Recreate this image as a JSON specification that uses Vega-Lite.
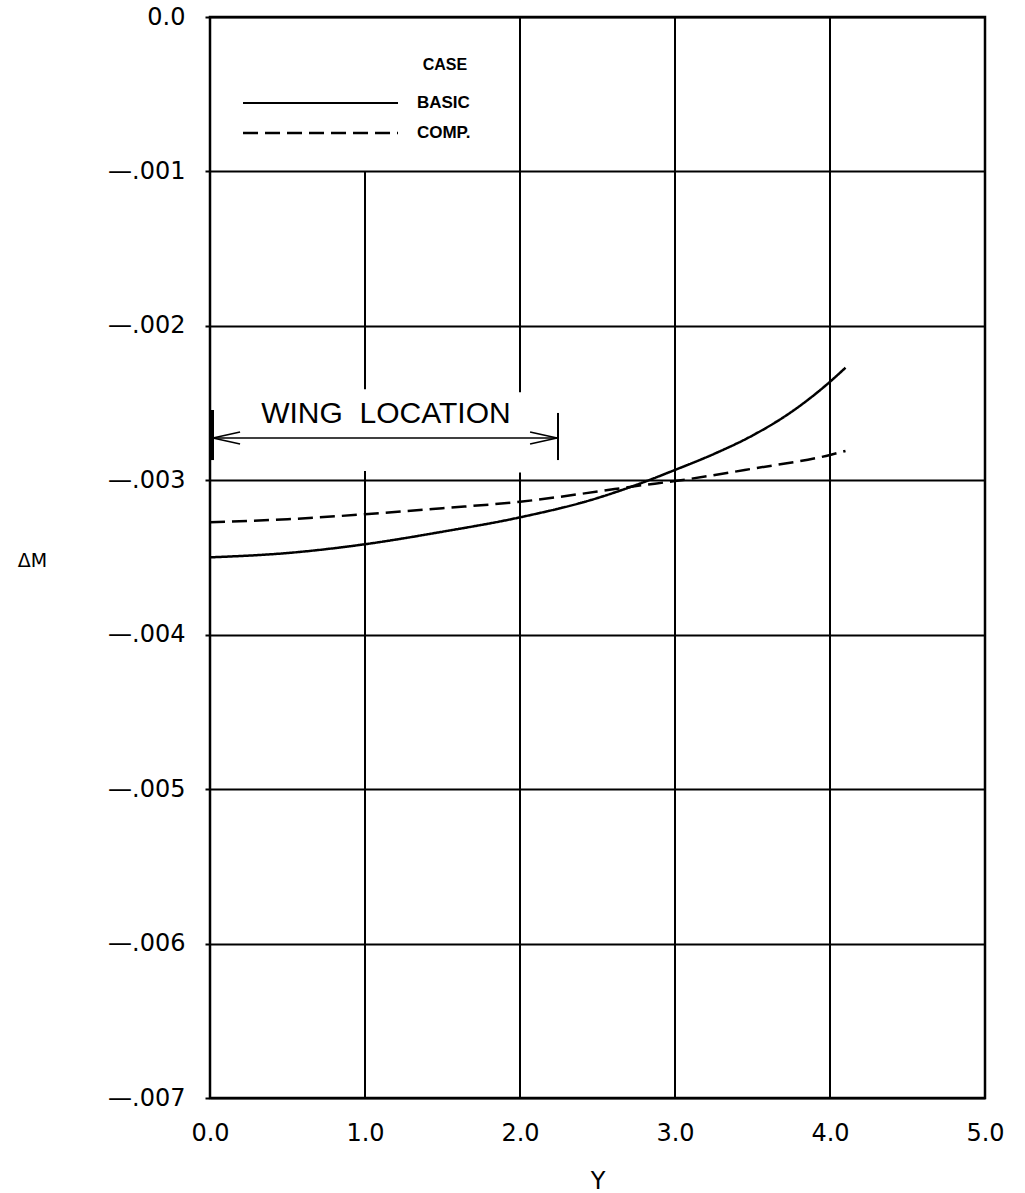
{
  "$schema": "https://vega.github.io/schema/vega-lite/v6.json",
  "width": 775,
  "height": 1081,
  "autosize": {"type": "none"},
  "padding": {"left": 210, "top": 17, "right": 40, "bottom": 95},
  "background": "white",
  "config": {"view": {"stroke": "black", "strokeWidth": 2.5}, "font": "DejaVu Sans"},
  "datasets": {
    "curves": [
      {"Y": 0.0, "dM": -0.003499, "case": "BASIC"},
      {"Y": 0.5, "dM": -0.003471, "case": "BASIC"},
      {"Y": 1.0, "dM": -0.003414, "case": "BASIC"},
      {"Y": 1.5, "dM": -0.003333, "case": "BASIC"},
      {"Y": 2.0, "dM": -0.003240, "case": "BASIC"},
      {"Y": 2.5, "dM": -0.003115, "case": "BASIC"},
      {"Y": 2.75, "dM": -0.003030, "case": "BASIC"},
      {"Y": 3.0, "dM": -0.002933, "case": "BASIC"},
      {"Y": 3.25, "dM": -0.002830, "case": "BASIC"},
      {"Y": 3.5, "dM": -0.002710, "case": "BASIC"},
      {"Y": 3.75, "dM": -0.002558, "case": "BASIC"},
      {"Y": 4.0, "dM": -0.002362, "case": "BASIC"},
      {"Y": 4.1, "dM": -0.002271, "case": "BASIC"},
      {"Y": 0.0, "dM": -0.003272, "case": "COMP."},
      {"Y": 0.5, "dM": -0.003252, "case": "COMP."},
      {"Y": 1.0, "dM": -0.003220, "case": "COMP."},
      {"Y": 1.5, "dM": -0.003181, "case": "COMP."},
      {"Y": 2.0, "dM": -0.003139, "case": "COMP."},
      {"Y": 2.5, "dM": -0.003073, "case": "COMP."},
      {"Y": 2.75, "dM": -0.003037, "case": "COMP."},
      {"Y": 3.0, "dM": -0.003005, "case": "COMP."},
      {"Y": 3.5, "dM": -0.002925, "case": "COMP."},
      {"Y": 4.0, "dM": -0.002836, "case": "COMP."},
      {"Y": 4.1, "dM": -0.002810, "case": "COMP."}
    ],
    "vgrid": [
      {"Y": 1, "lo": -0.007, "hi": -0.00294},
      {"Y": 1, "lo": -0.00241, "hi": -0.001},
      {"Y": 2, "lo": -0.007, "hi": -0.00295},
      {"Y": 2, "lo": -0.00243, "hi": 0},
      {"Y": 3, "lo": -0.007, "hi": 0},
      {"Y": 4, "lo": -0.007, "hi": 0}
    ]
  },
  "layer": [
    {
      "data": {"name": "curves"},
      "mark": {"type": "line", "interpolate": "monotone", "stroke": "black", "strokeWidth": 2.5},
      "encoding": {
        "x": {
          "field": "Y", "type": "quantitative",
          "scale": {"domain": [0, 5], "nice": false, "zero": false},
          "axis": {
            "values": [0, 1, 2, 3, 4, 5], "format": ".1f", "grid": false, "domain": false, "ticks": false,
            "labelPadding": 23, "labelFont": "DejaVu Sans", "labelFontSize": 24, "labelColor": "black",
            "labelFlush": false, "labelOverlap": false,
            "title": "Y", "titleFont": "DejaVu Sans", "titleFontSize": 24, "titleFontWeight": "normal",
            "titleColor": "black", "titleBaseline": "alphabetic", "titleY": 90
          }
        },
        "y": {
          "field": "dM", "type": "quantitative",
          "scale": {"domain": [-0.007, 0], "nice": false, "zero": false},
          "axis": {
            "values": [0, -0.001, -0.002, -0.003, -0.004, -0.005, -0.006, -0.007],
            "labelExpr": "datum.value == 0 ? '0.0' : '—' + slice(format(abs(datum.value), '.3f'), 1)",
            "grid": true, "gridColor": "black", "gridWidth": 2, "gridOpacity": 1,
            "domain": false, "ticks": true, "tickSize": 5, "tickColor": "black", "tickWidth": 2,
            "labelPadding": 20, "labelFont": "DejaVu Sans", "labelFontSize": 24, "labelColor": "black",
            "labelFlush": false, "labelOverlap": false,
            "title": "ΔM", "titleAngle": 0, "titleX": -178, "titleY": 543, "titleAlign": "center",
            "titleBaseline": "middle", "titleFont": "DejaVu Sans", "titleFontSize": 19,
            "titleFontWeight": "normal", "titleColor": "black"
          }
        },
        "strokeDash": {
          "field": "case", "type": "nominal",
          "scale": {"domain": ["BASIC", "COMP."], "range": [[1, 0], [15, 7]]},
          "legend": null
        }
      }
    },
    {
      "data": {"name": "vgrid"},
      "mark": {"type": "rule", "stroke": "black", "strokeWidth": 2},
      "encoding": {
        "x": {"field": "Y", "type": "quantitative"},
        "y": {"field": "lo", "type": "quantitative"},
        "y2": {"field": "hi"}
      }
    },
    {
      "data": {"values": [{}]},
      "mark": {"type": "text", "text": "CASE", "font": "Liberation Sans", "fontWeight": "bold", "fontSize": 16, "align": "center", "baseline": "middle", "color": "black"},
      "encoding": {"x": {"datum": 1.516, "type": "quantitative"}, "y": {"datum": -0.000311, "type": "quantitative"}}
    },
    {
      "data": {"values": [{}]},
      "mark": {"type": "text", "text": "BASIC", "font": "Liberation Sans", "fontWeight": "bold", "fontSize": 17, "align": "left", "baseline": "middle", "color": "black"},
      "encoding": {"x": {"datum": 1.335, "type": "quantitative"}, "y": {"datum": -0.000557, "type": "quantitative"}}
    },
    {
      "data": {"values": [{}]},
      "mark": {"type": "text", "text": "COMP.", "font": "Liberation Sans", "fontWeight": "bold", "fontSize": 17, "align": "left", "baseline": "middle", "color": "black"},
      "encoding": {"x": {"datum": 1.335, "type": "quantitative"}, "y": {"datum": -0.000751, "type": "quantitative"}}
    },
    {
      "data": {"values": [{}]},
      "mark": {"type": "rule", "stroke": "black", "strokeWidth": 2},
      "encoding": {"x": {"datum": 0.213, "type": "quantitative"}, "x2": {"datum": 1.213}, "y": {"datum": -0.000557, "type": "quantitative"}}
    },
    {
      "data": {"values": [{}]},
      "mark": {"type": "rule", "stroke": "black", "strokeWidth": 2.4, "strokeDash": [15, 7]},
      "encoding": {"x": {"datum": 0.213, "type": "quantitative"}, "x2": {"datum": 1.213}, "y": {"datum": -0.000751, "type": "quantitative"}}
    },
    {
      "data": {"values": [{}]},
      "mark": {"type": "text", "text": "WING\u00a0\u00a0LOCATION", "font": "Liberation Sans", "fontWeight": "normal", "fontSize": 30, "align": "center", "baseline": "alphabetic", "color": "black"},
      "encoding": {"x": {"datum": 1.135, "type": "quantitative"}, "y": {"datum": -0.002629, "type": "quantitative"}}
    },
    {
      "data": {"values": [{}]},
      "mark": {"type": "rule", "stroke": "black", "strokeWidth": 1.6},
      "encoding": {"x": {"datum": 0.013, "type": "quantitative"}, "x2": {"datum": 2.239}, "y": {"datum": -0.002726, "type": "quantitative"}}
    },
    {
      "data": {"values": [{}]},
      "mark": {"type": "rule", "stroke": "black", "strokeWidth": 4},
      "encoding": {"x": {"datum": 0.013, "type": "quantitative"}, "y": {"datum": -0.002545, "type": "quantitative"}, "y2": {"datum": -0.002869}}
    },
    {
      "data": {"values": [{}]},
      "mark": {"type": "rule", "stroke": "black", "strokeWidth": 2},
      "encoding": {"x": {"datum": 2.245, "type": "quantitative"}, "y": {"datum": -0.002564, "type": "quantitative"}, "y2": {"datum": -0.002869}}
    },
    {
      "data": {"values": [{}]},
      "mark": {"type": "rule", "stroke": "black", "strokeWidth": 1.6},
      "encoding": {"x": {"datum": 0.019, "type": "quantitative"}, "x2": {"datum": 0.194}, "y": {"datum": -0.002726, "type": "quantitative"}, "y2": {"datum": -0.002687}}
    },
    {
      "data": {"values": [{}]},
      "mark": {"type": "rule", "stroke": "black", "strokeWidth": 1.6},
      "encoding": {"x": {"datum": 0.019, "type": "quantitative"}, "x2": {"datum": 0.194}, "y": {"datum": -0.002726, "type": "quantitative"}, "y2": {"datum": -0.002765}}
    },
    {
      "data": {"values": [{}]},
      "mark": {"type": "rule", "stroke": "black", "strokeWidth": 1.6},
      "encoding": {"x": {"datum": 2.239, "type": "quantitative"}, "x2": {"datum": 2.065}, "y": {"datum": -0.002726, "type": "quantitative"}, "y2": {"datum": -0.002687}}
    },
    {
      "data": {"values": [{}]},
      "mark": {"type": "rule", "stroke": "black", "strokeWidth": 1.6},
      "encoding": {"x": {"datum": 2.239, "type": "quantitative"}, "x2": {"datum": 2.065}, "y": {"datum": -0.002726, "type": "quantitative"}, "y2": {"datum": -0.002765}}
    }
  ]
}
